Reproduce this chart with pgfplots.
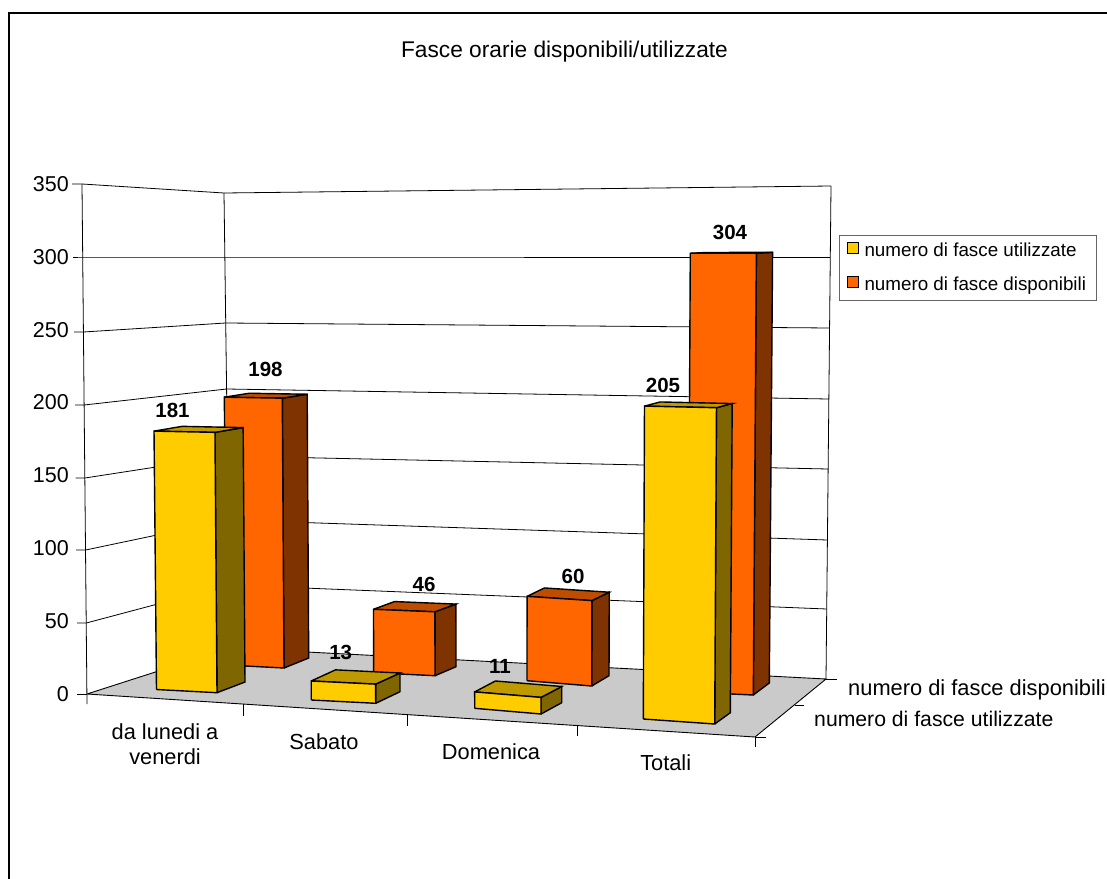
\documentclass[border=0pt]{standalone}
\usepackage{pgfplots}
\pgfplotsset{compat=1.18}
\usepackage{fontspec}
\setmainfont{Liberation Sans}
\definecolor{yF}{HTML}{FFCC00}\definecolor{yS}{HTML}{7F6600}\definecolor{yT}{HTML}{BF9900}
\definecolor{oF}{HTML}{FF6600}\definecolor{oS}{HTML}{7F3300}\definecolor{oT}{HTML}{BF4D00}
\definecolor{floorc}{HTML}{CACACA}
\newcommand\fs[1]{\fontsize{#1bp}{#1bp}\selectfont}
% projection of the top of a bar corner: floor pixel (x,y) and value
\newcommand\Proj[4]{%
 \pgfmathsetmacro\pk{1.3+(#1-230)/1000*0.015+(#2-648)/1000*3.1}%
 \pgfmathsetmacro\py{#2-\pk*#3}%
 \pgfmathsetmacro\px{#1+(#1-500)/250*#3/100}%
 \expandafter\edef\csname #4\endcsname{(\px,\py)}}
% colour set, value, floor corners front-left, front-right, back-right
\newcommand\DrawBar[8]{%
 \pgfmathsetmacro\BLx{#3+#7-#5}\pgfmathsetmacro\BLy{#4+#8-#6}%
 \Proj{#3}{#4}{#2}{tFL}\Proj{#5}{#6}{#2}{tFR}\Proj{#7}{#8}{#2}{tBR}\Proj{\BLx}{\BLy}{#2}{tBL}%
 \edef\tmp{\noexpand\addplot[barface,fill=#1S] coordinates {(#5,#6)(#7,#8)\tBR\tFR(#5,#6)};}\tmp
 \edef\tmp{\noexpand\addplot[barface,fill=#1T] coordinates {\tFL\tFR\tBR\tBL\tFL};}\tmp
 \edef\tmp{\noexpand\addplot[barface,fill=#1F] coordinates {(#3,#4)(#5,#6)\tFR\tFL(#3,#4)};}\tmp
}
\begin{document}
\begin{tikzpicture}
\path[use as bounding box] (0,0) rectangle (1107bp,879bp);
\begin{axis}[
  at={(0,0)},anchor=south west,scale only axis,
  width=1107bp,height=879bp,
  xmin=0,xmax=1107,ymin=0,ymax=879,y dir=reverse,
  axis lines=none,clip=false,
  barface/.style={draw=black,line width=1.4bp,line join=miter,mark=none,forget plot},
  gridl/.style={draw=black,line width=0.8bp,mark=none,forget plot},
  legend style={at={(axis cs:839.3,234.7)},anchor=north west,draw=black!60,line width=1bp,
    font=\fs{18.8},row sep=12bp,inner xsep=7bp,inner ysep=4.5bp,
    nodes={inner sep=3.5bp,yshift=-2.5bp}},
  legend cell align=left,
  legend image code/.code={\draw[#1,draw=black,line width=1.2bp] (0bp,-5.5bp) rectangle (11bp,5.5bp);},
]
% outer frame
\addplot[draw=black,line width=2bp,mark=none,forget plot] coordinates {(9,879)(9,13)(1107,13)};
% floor
\addplot[fill=floorc,draw=black,line width=0.9bp,mark=none,forget plot] coordinates {(87,694)(755,737)(826,679)(230,648)(87,694)};
% walls
\addplot[gridl] coordinates {(82,184)(87,704)};
\addplot[gridl] coordinates {(224,193)(230,648)};
\addplot[gridl] coordinates {(831,186)(826,679)};
\addplot[gridl] coordinates {(72,184)(82,184)(224,193)(831,186)};
\addplot[gridl] coordinates {(73,257)(82.7,257)(224.9,257)(830.3,257)};
\addplot[gridl] coordinates {(74,332)(83.4,332)(225.7,323)(829.6,328)};
\addplot[gridl] coordinates {(75,405)(84.1,405)(226.6,389)(828.9,399)};
\addplot[gridl] coordinates {(75.5,478)(84.9,478)(227.4,456)(828.1,469)};
\addplot[gridl] coordinates {(76,550)(85.6,550)(228.3,520)(827.4,540)};
\addplot[gridl] coordinates {(77,623)(86.3,623)(229.1,585)(826.7,609)};
\addplot[gridl] coordinates {(77,694)(87,694)};
% axis ticks
\addplot[gridl] coordinates {(243.3,704)(243.3,716)};
\addplot[gridl] coordinates {(407,715)(407,726)};
\addplot[gridl] coordinates {(577.3,725)(577.3,736)};
\addplot[gridl] coordinates {(755,737)(755,747)};
\addplot[gridl] coordinates {(826,679)(837,679)};
\addplot[gridl] coordinates {(795,705)(804,705)};
\addplot[gridl] coordinates {(755,737)(766,737)};
% bars: numero di fasce disponibili, then numero di fasce utilizzate
\DrawBar{o}{198}{226.5}{665}{284}{668}{308.7}{658}
\DrawBar{y}{181}{156.5}{689.5}{217}{692.7}{245}{682}
\DrawBar{o}{46}{373.7}{672.7}{435}{675.7}{456}{666.7}
\DrawBar{y}{13}{311.3}{700}{375.7}{703.3}{400}{691.7}
\DrawBar{o}{60}{527}{680.7}{591.7}{686}{609}{675.7}
\DrawBar{y}{11}{474.7}{708.3}{541}{714}{561.7}{702.7}
\DrawBar{o}{304}{688}{692}{753.3}{695}{769.3}{683}
\DrawBar{y}{205}{643.3}{719}{714.7}{724}{730.3}{712.7}
% value labels
\addplot[only marks,mark=none,forget plot,point meta=explicit symbolic,
  nodes near coords,nodes near coords style={anchor=center,inner sep=0pt,font=\fs{20.5}\bfseries}]
  coordinates {(172.5,410.7)[181] (265.5,369)[198] (340.7,652)[13] (424,584)[46]
               (500,666)[11] (573,576)[60] (663,385)[205] (730,232)[304]};
% texts
\node[font=\fs{22.7},anchor=center] at (axis cs:564.5,52) {Fasce orarie disponibili/utilizzate};
\node[font=\fs{21.8},anchor=center,align=center] at (axis cs:165,744.5) {da lunedi a\\[3bp]venerdi};
\node[font=\fs{21.8},anchor=center] at (axis cs:324,741.7) {Sabato};
\node[font=\fs{21.8},anchor=center] at (axis cs:491,751.7) {Domenica};
\node[font=\fs{21.8},anchor=center] at (axis cs:665.7,762.7) {Totali};
\node[font=\fs{21.85},anchor=west,inner sep=0pt] at (axis cs:848,690) {numero di fasce disponibili};
\node[font=\fs{21.2},anchor=west,inner sep=0pt] at (axis cs:814,719) {numero di fasce utilizzate};
\addlegendimage{fill=yF}\addlegendentry{\hspace*{2bp}numero di fasce utilizzate}
\addlegendimage{fill=oF}\addlegendentry{\hspace*{2bp}numero di fasce disponibili}
\end{axis}
% value axis
\begin{axis}[
  at={(69bp,185bp)},anchor=south west,scale only axis,
  width=1bp,height=510bp,
  xmin=0,xmax=1,ymin=0,ymax=350,
  axis x line=none,axis y line=left,
  y axis line style={draw=none},
  ytick={0,50,...,350},major tick length=0pt,
  tick label style={font=\fs{21.5}},
  yticklabel style={anchor=east,inner sep=0pt},
  /pgf/number format/assume math mode=true,
]
\end{axis}
\end{tikzpicture}
\end{document}
